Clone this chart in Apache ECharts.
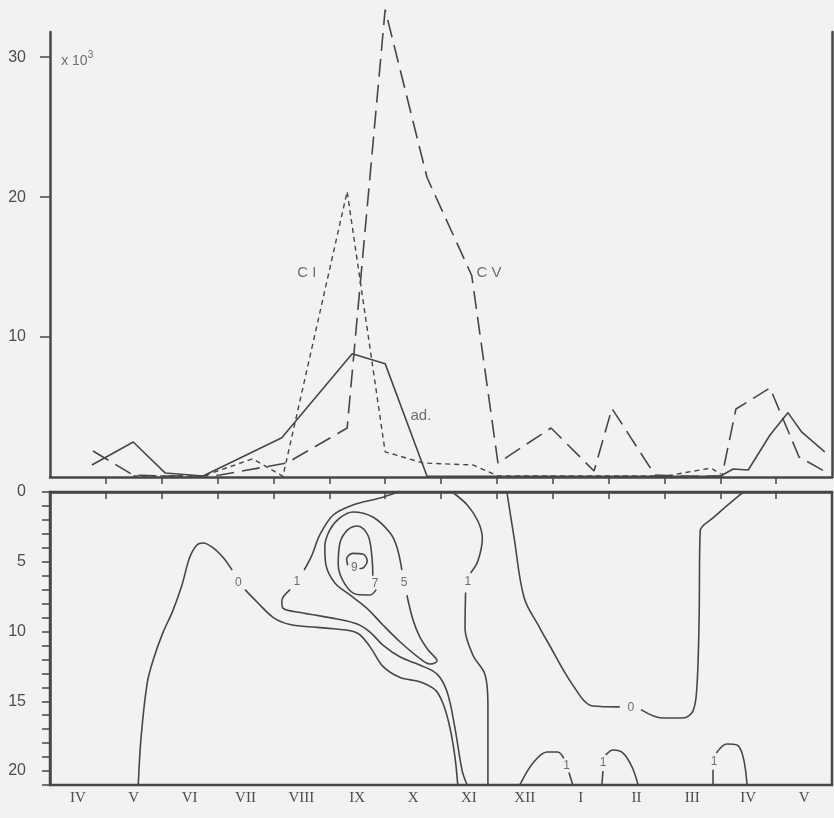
<!DOCTYPE html>
<html>
<head>
<meta charset="utf-8">
<script src="https://cdn.jsdelivr.net/npm/echarts@6/dist/echarts.min.js"></script>
<style>
html, body { margin: 0; padding: 0; background: #f2f2f0; }
#main { width: 834px; height: 818px; }
</style>
</head>
<body>
<div id="main"></div>
<script>
// months from April (0) to the following May (14)
var months = ["IV", "V", "VI", "VII", "VIII", "IX", "X", "XI", "XII", "I", "II", "III", "IV", "V"];
var countTicks = [10, 20, 30];
var depthTicks = [0, 5, 10, 15, 20];

// abundance (x 10^3), [month, value]
var adults = [[0.75, 0.86], [1.49, 2.5], [2.06, 0.29], [2.74, 0.07], [4.15, 2.8], [5.41, 8.8], [6.0, 8.1], [6.75, 0.05], [8.02, 0.05], [9.04, 0.05], [10.03, 0.05], [11.03, 0.05], [12.0, 0.05], [12.23, 0.57], [12.5, 0.5], [12.89, 3.0], [13.21, 4.6], [13.46, 3.2], [13.87, 1.8]];
var stageCV = [[0.77, 1.86], [1.49, 0.14], [2.08, 0.07], [2.74, 0.07], [3.04, 0.14], [4.24, 1.0], [5.32, 3.5], [6.0, 33.4], [6.75, 21.4], [7.55, 14.4], [8.02, 1.0], [8.97, 3.5], [9.74, 0.43], [10.06, 4.9], [10.83, 0.14], [11.46, 0.05], [12.03, 0.07], [12.28, 4.86], [12.89, 6.36], [13.41, 1.43], [13.89, 0.36]];
var stageCI = [[1.49, 0.07], [2.08, 0.07], [2.74, 0.07], [3.63, 1.3], [4.17, 0.05], [5.32, 20.4], [6.0, 1.8], [6.68, 1.0], [7.57, 0.86], [8.02, 0.07], [9.04, 0.07], [10.03, 0.07], [11.03, 0.07], [11.83, 0.64], [12.01, 0.2]];
var curveLabels = [[4.6, 14.6, "C I"], [7.86, 14.6, "C V"], [6.64, 4.4, "ad."]];

// isolines, [month, depth m]
var iso0West = [
  [[1.58, 21], [1.63, 17.6], [1.74, 13.7], [1.85, 12.0], [2.02, 10.1], [2.2, 8.5], [2.36, 6.7], [2.5, 4.7], [2.63, 3.8], [2.74, 3.66], [2.92, 4.0], [3.1, 4.7], [3.26, 5.6]],
  [[3.49, 7.0], [3.71, 7.9], [4.0, 9.0], [4.3, 9.5], [4.78, 9.7], [5.07, 9.8], [5.5, 10.1], [5.73, 11.1], [5.96, 12.5], [6.27, 13.3], [6.62, 13.6], [6.9, 14.2], [7.04, 15.2], [7.16, 16.9], [7.25, 19], [7.3, 21]]
];
var iso1Sept = [
  [[6.23, 0], [5.91, 0.43], [5.42, 0.93], [5.07, 1.65], [4.83, 3.08], [4.69, 4.52], [4.55, 5.6]],
  [[4.3, 7.0], [4.15, 7.81], [4.17, 8.32], [4.53, 8.67], [5.14, 9.1], [5.5, 9.46], [5.73, 10.04], [5.96, 10.97], [6.27, 11.83], [6.62, 12.4], [6.93, 13.05], [7.11, 14.34], [7.25, 16.92], [7.38, 20.0], [7.47, 21]]
];
var iso5 = [
  [[6.39, 7.4], [6.5, 9.18], [6.62, 10.39], [6.77, 11.33], [6.93, 12.11], [6.8, 12.33], [6.59, 11.83], [6.27, 10.75], [5.96, 9.53], [5.67, 8.32], [5.37, 7.38], [5.1, 6.52], [4.94, 5.23], [4.92, 3.94], [5.01, 2.72], [5.19, 1.86], [5.42, 1.43], [5.78, 1.79], [6.09, 2.94], [6.21, 3.94], [6.3, 5.6]]
];
var iso7 = [
  [[5.84, 7.0], [5.73, 7.38], [5.5, 7.35], [5.28, 6.6], [5.16, 5.2], [5.19, 3.66], [5.33, 2.72], [5.51, 2.44], [5.69, 3.08], [5.76, 4.52], [5.78, 6.0]]
];
var iso9 = [
  [[5.33, 5.25], [5.31, 4.8], [5.42, 4.4], [5.6, 4.45], [5.68, 4.95], [5.62, 5.4], [5.54, 5.5]]
];
var iso1Nov = [
  [[7.2, 0], [7.47, 0.93], [7.66, 2.08], [7.74, 3.3], [7.66, 4.95], [7.53, 5.8]],
  [[7.44, 7.2], [7.43, 9.75], [7.57, 11.68], [7.79, 13.12], [7.84, 15.27], [7.84, 21]]
];
var iso0Winter = [
  [[8.18, 0], [8.31, 3.3], [8.49, 7.6], [8.77, 9.75], [8.9, 10.68], [9.36, 13.84], [9.72, 15.34], [10.2, 15.4]],
  [[10.58, 15.6], [10.97, 16.2], [11.33, 16.2], [11.51, 15.7], [11.58, 14.05], [11.62, 9.25], [11.64, 2.8], [11.87, 1.86], [12.35, 0.2], [12.44, 0]]
];
var iso1Bottom = [
  [[8.41, 21], [8.65, 19.4], [8.9, 18.64], [9.09, 18.64], [9.2, 19.1]],
  [[9.29, 20.1], [9.36, 21]],
  [[9.88, 21], [9.9, 20.0]],
  [[9.95, 18.85], [10.08, 18.49], [10.26, 18.71], [10.42, 19.71], [10.53, 21]],
  [[11.87, 21], [11.87, 19.9]],
  [[11.93, 18.7], [12.12, 18.06], [12.3, 18.14], [12.41, 19.0], [12.48, 21]]
];
var isoLabels = [[3.37, 6.5, "0"], [4.42, 6.4, "1"], [6.34, 6.5, "5"], [5.82, 6.55, "7"], [5.45, 5.4, "9"], [7.48, 6.4, "1"], [10.4, 15.45, "0"], [9.25, 19.6, "1"], [9.9, 19.4, "1"], [11.89, 19.3, "1"]];

var ink = "#474747";
var textInk = "#4d4d4d";

var myChart = echarts.init(document.getElementById("main"));

function lineSeries(data, dash, width) {
  return {
    type: "line", xAxisIndex: 0, yAxisIndex: 0, data: data,
    symbol: "none", clip: false,
    lineStyle: { color: ink, width: width, type: dash }
  };
}

var series = [
  lineSeries(adults, "solid", 1.6),
  lineSeries(stageCV, [18, 8], 1.6),
  lineSeries(stageCI, [5, 4], 1.4),
  {
    type: "scatter", xAxisIndex: 0, yAxisIndex: 0, symbolSize: 0,
    data: curveLabels.map(function (d) { return { value: [d[0], d[1]], name: d[2] }; }),
    label: { show: true, position: "inside", formatter: "{b}", color: textInk, fontSize: 15, fontFamily: "Liberation Sans" }
  },
  {
    type: "scatter", xAxisIndex: 0, yAxisIndex: 0, symbolSize: 0,
    data: [{ value: [0.2, 29.7], name: "x" }],
    label: {
      show: true, position: "right", distance: 0, color: textInk, fontSize: 14, fontFamily: "Liberation Sans",
      formatter: "x 10{s|3}",
      rich: { s: { fontSize: 10, color: textInk, padding: [0, 0, 12, 0] } }
    }
  }
];

[iso0West, iso1Sept, iso5, iso7, iso9, iso1Nov, iso0Winter, iso1Bottom].forEach(function (iso) {
  iso.forEach(function (seg) {
    series.push({
      type: "line", xAxisIndex: 1, yAxisIndex: 2, data: seg,
      symbol: "none", smooth: 0.35,
      lineStyle: { color: ink, width: 1.6 }
    });
  });
});

series.push({
  type: "scatter", xAxisIndex: 1, yAxisIndex: 2, symbolSize: 0,
  data: isoLabels.map(function (d) { return { value: [d[0], d[1]], name: d[2] }; }),
  label: { show: true, position: "inside", formatter: "{b}", color: textInk, fontSize: 12, fontFamily: "Liberation Sans" }
});

var monthTicks = [];
var monthMids = [];
for (var i = 0; i < months.length; i++) {
  if (i > 0) monthTicks.push(i);
  monthMids.push(i + 0.5);
}

var option = {
  animation: false,
  backgroundColor: "#f2f2f0",
  grid: [
    { left: 50, right: 2, top: 32, height: 445 },
    { left: 50, right: 2, top: 492, height: 293, show: true, borderColor: ink, borderWidth: 2.5, backgroundColor: "transparent" }
  ],
  xAxis: [
    {
      type: "value", gridIndex: 0, min: 0, max: 14,
      axisLine: { lineStyle: { color: ink, width: 2.5 } },
      axisTick: { show: true, customValues: monthTicks, length: 7, lineStyle: { color: ink, width: 1.5 } },
      axisLabel: { show: false },
      splitLine: { show: false }
    },
    {
      type: "value", gridIndex: 1, min: 0, max: 14,
      axisLine: { lineStyle: { color: ink, width: 2.5 } },
      axisTick: { show: true, customValues: monthTicks, length: 7, lineStyle: { color: ink, width: 1.5 } },
      axisLabel: {
        customValues: monthMids, margin: 6, color: textInk, fontSize: 15, fontFamily: "Liberation Serif",
        formatter: function (v) { return months[Math.floor(v)]; }
      },
      splitLine: { show: false }
    }
  ],
  yAxis: [
    {
      type: "value", gridIndex: 0, min: 0, max: 31.8,
      axisLine: { show: true, lineStyle: { color: ink, width: 2.5 } },
      axisTick: { show: true, customValues: countTicks, length: 10, lineStyle: { color: ink, width: 1.5 } },
      axisLabel: { customValues: countTicks, margin: 24, color: textInk, fontSize: 16, fontFamily: "Liberation Sans" },
      splitLine: { show: false }
    },
    {
      type: "value", gridIndex: 0, position: "right", min: 0, max: 31.8,
      axisLine: { show: true, lineStyle: { color: ink, width: 2.5 } },
      axisTick: { show: false }, axisLabel: { show: false }, splitLine: { show: false }
    },
    {
      type: "value", gridIndex: 1, inverse: true, min: 0, max: 21, interval: 1,
      axisLine: { show: true, lineStyle: { color: ink, width: 2.5 } },
      axisTick: { show: true, length: 8, lineStyle: { color: ink, width: 1.5 } },
      axisLabel: { customValues: depthTicks, margin: 24, color: textInk, fontSize: 16, fontFamily: "Liberation Sans" },
      splitLine: { show: false }
    }
  ],
  series: series
};

option && myChart.setOption(option);
</script>
</body>
</html>
